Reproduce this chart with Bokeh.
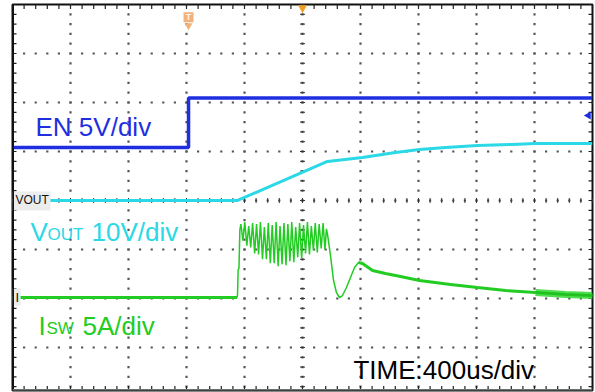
import numpy as np
from bokeh.plotting import figure
from bokeh.models import Range1d, Span
from bokeh.core.properties import value
from bokeh.embed import file_html
from bokeh.resources import INLINE

# ---- scope settings ----
TIME_PER_DIV = 400.0   # us / div
EN_PER_DIV = 5.0       # V / div
VOUT_PER_DIV = 10.0    # V / div
ISW_PER_DIV = 5.0      # A / div
EN_GND = 5.08          # ground marker position (div)
VOUT_GND = 4.0
ISW_GND = 2.02
N_XDIV = 10
N_YDIV = 8
Y_LOW = 0.122          # visible bottom of the screen (div)

# ---- traces (time in us) ----
en_t = [0, 1214, 1214, 4000]
en_v = [0.0, 0.0, 5.05, 5.05]

vout_t = [0, 1552, 2172, 2414, 2641, 2807, 2986, 3207, 3448, 3607, 4000]
vout_v = [0.0, 0.0, 7.96, 8.78, 9.80, 10.41, 10.82, 11.22, 11.43, 11.63, 11.63]

isw_t = [0, 1548, 1552, 1556, 1562, 1568,
         1575, 1589, 1602, 1616, 1629, 1643, 1656, 1670, 1683, 1697,
         1710, 1724, 1737, 1751, 1764, 1778, 1791, 1805, 1818, 1832,
         1845, 1859, 1872, 1886, 1899, 1913, 1926, 1940, 1953, 1967,
         1980, 1994, 2007, 2021, 2034, 2048, 2061, 2075, 2088, 2102,
         2115, 2129, 2142, 2155, 2165,
         2172, 2193, 2214, 2234, 2255, 2276, 2303, 2331, 2359, 2386,
         2414, 2483, 2572, 2676, 2807, 3021, 3207, 3400, 3607, 3814, 4000]
isw_i = [0.0, 0.0, 0.3, 2.8, 3.0, 6.9,
         7.5, 5.8, 7.7, 5.3, 7.3, 5.1, 7.6, 4.5, 7.5, 4.4,
         7.7, 3.9, 7.2, 3.9, 7.6, 3.5, 7.4, 3.5, 7.7, 3.2,
         7.3, 3.4, 7.6, 3.3, 7.5, 3.7, 7.7, 3.6, 7.2, 4.1,
         7.6, 4.0, 7.4, 4.5, 7.7, 4.4, 7.3, 4.8, 7.6, 4.6,
         7.5, 5.0, 7.6, 4.9, 7.0,
         6.5, 4.29, 1.73, 0.51, 0.0, 0.2, 1.02, 2.04, 3.06, 3.57,
         3.47, 2.76, 2.45, 2.14, 1.73, 1.33, 1.02, 0.71, 0.51, 0.31, 0.20]
DECAY_START = 60   # index where the post-burst tail begins

EN_COLOR = "#1f2fe0"
VOUT_COLOR = "#2ad8e6"
ISW_COLOR = "#22cc22"

# text baseline correction (px per px of font size) for the svg backend
BL_FIX = 8.5 / 26.0
PX_PER_YDIV = 49.0


def tx(t):
    return np.asarray(t, dtype=float) / TIME_PER_DIV


def ty(y, size):
    return y + BL_FIX * size / PX_PER_YDIV


p = figure(frame_width=580, frame_height=386,
           min_border_left=12, min_border_right=3, min_border_top=4, min_border_bottom=2,
           x_range=Range1d(0, N_XDIV), y_range=Range1d(Y_LOW, N_YDIV),
           x_axis_location=None, y_axis_location=None,
           toolbar_location=None, output_backend="svg",
           background_fill_color="white", border_fill_color="white")
p.xgrid.visible = False
p.ygrid.visible = False
p.outline_line_color = "#111111"
p.outline_line_width = 2

# ---- graticule ----
minor_x = np.round(np.arange(0, N_XDIV + 0.001, 0.2), 3)
minor_y = np.round(np.arange(0, N_YDIV + 0.001, 0.2), 3)
gx, gy = [], []
for k in range(1, N_YDIV):
    gx += list(minor_x)
    gy += [k] * len(minor_x)
for j in range(1, N_XDIV):
    gx += [j] * len(minor_y)
    gy += list(minor_y)
p.scatter(gx, gy, marker="square", size=2.2, color="#555555", line_width=0)

# centre cross ticks
p.scatter(minor_x, [VOUT_GND] * len(minor_x), marker="dash", angle=np.pi / 2,
          size=5, line_color="#333333", line_width=1)
p.scatter([5] * len(minor_y), minor_y, marker="dash", size=5,
          line_color="#333333", line_width=1)
# edge ticks
p.scatter(minor_x, [N_YDIV] * len(minor_x), marker="dash", angle=np.pi / 2,
          size=9, line_color="#222222", line_width=1.2)
p.scatter(minor_x, [Y_LOW] * len(minor_x), marker="dash", angle=np.pi / 2,
          size=9, line_color="#222222", line_width=1.2)
p.scatter([0] * len(minor_y), minor_y, marker="dash", size=8,
          line_color="#222222", line_width=1.2)
p.scatter([N_XDIV] * len(minor_y), minor_y, marker="dash", size=8,
          line_color="#222222", line_width=1.2)

p.add_layout(Span(location=0, dimension="height", line_color="#111111", line_width=3))
p.add_layout(Span(location=Y_LOW, dimension="width", line_color="#6a7272", line_width=3))

# ---- traces ----
p.line(tx(en_t), EN_GND + np.asarray(en_v) / EN_PER_DIV, line_color=EN_COLOR, line_width=3.5)
p.line(tx(vout_t), VOUT_GND + np.asarray(vout_v) / VOUT_PER_DIV, line_color=VOUT_COLOR, line_width=3)
isw_x = tx(isw_t)
isw_y = ISW_GND + np.asarray(isw_i) / ISW_PER_DIV
p.line(isw_x, isw_y, line_color=ISW_COLOR, line_width=1.5)
p.line(isw_x[:2], isw_y[:2], line_color=ISW_COLOR, line_width=3)
p.line(isw_x[DECAY_START:], isw_y[DECAY_START:], line_color=ISW_COLOR, line_width=3)
p.line(isw_x[DECAY_START + 9:], isw_y[DECAY_START + 9:], line_color="#33d633",
       line_width=7, line_alpha=0.85, line_join="round")
p.line(isw_x[DECAY_START + 9:], isw_y[DECAY_START + 9:], line_color="#1fc01f", line_width=2.5)

# ---- ground marker tags ----
p.quad(left=[0], right=[0.655], bottom=[3.796], top=[4.184], fill_color="#ececec", line_width=0)
p.text([0.05], [VOUT_GND], text=["VOUT"], text_font=value("Liberation Sans"),
       text_font_size="12px", text_color="#111111", text_baseline="middle")
p.quad(left=[0], right=[0.14], bottom=[1.857], top=[2.204], fill_color="#ececec", line_width=0)
p.text([0.05], [ISW_GND], text=["I"], text_font=value("Liberation Sans"),
       text_font_size="13px", text_color="#111111", text_baseline="middle")

# trigger / position markers
TRIG_T = 1214
p.scatter([tx(TRIG_T)], [7.74], marker="square", size=10, color="#f2b07a", line_width=0)
p.scatter([tx(TRIG_T)], [7.57], marker="inverted_triangle", size=8, color="#f2b07a", line_width=0)
p.text([tx(TRIG_T)], [7.74], text=["T"], text_font=value("Liberation Sans"), text_font_size="9px",
       text_color="#fff4e8", text_align="center", text_baseline="middle", text_font_style="bold")
p.scatter([5], [7.93], marker="inverted_triangle", size=9, color="#f0a020", line_width=0)
p.scatter([9.93], [5.735], marker="triangle", angle=np.pi / 2, size=8, color=EN_COLOR, line_width=0)

# ---- channel labels ----
F = value("Liberation Sans")
p.text([0.397], [ty(5.327, 26)], text=["EN 5V/div"], text_font=F, text_font_size="26px",
       text_color=EN_COLOR, text_baseline="alphabetic")
p.text([0.31], [ty(3.184, 26)], text=["V"], text_font=F, text_font_size="26px",
       text_color=VOUT_COLOR, text_baseline="alphabetic")
p.text([0.31], [ty(3.184, 17)], text=["OUT"], text_font=F, text_font_size="17px", x_offset=17,
       text_color=VOUT_COLOR, text_baseline="alphabetic")
p.text([0.31], [ty(3.184, 26)], text=["10V/div"], text_font=F, text_font_size="26px", x_offset=61,
       text_color=VOUT_COLOR, text_baseline="alphabetic")
p.text([0.448], [ty(1.265, 26)], text=["I"], text_font=F, text_font_size="26px",
       text_color=ISW_COLOR, text_baseline="alphabetic")
p.text([0.448], [ty(1.265, 17)], text=["SW"], text_font=F, text_font_size="17px", x_offset=8,
       text_color=ISW_COLOR, text_baseline="alphabetic")
p.text([0.448], [ty(1.265, 26)], text=["5A/div"], text_font=F, text_font_size="26px", x_offset=44,
       text_color=ISW_COLOR, text_baseline="alphabetic")
p.text([5.879], [ty(0.367, 26)], text=["TIME:400us/div"], text_font=F, text_font_size="26px",
       text_color="#000000", text_baseline="alphabetic")

open("out.html", "w").write(file_html(p, INLINE))
